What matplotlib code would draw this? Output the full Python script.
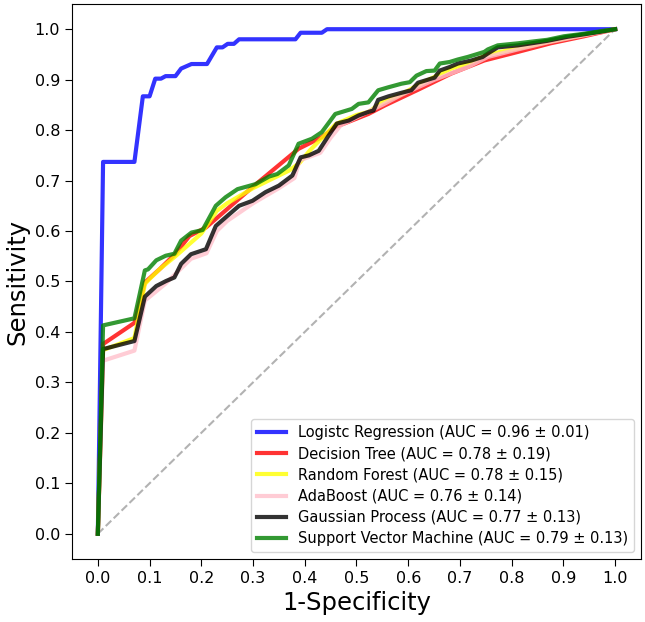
import numpy as np
import matplotlib
matplotlib.use('Agg')
import matplotlib.pyplot as plt

# mean ROC curves
fpr_lr = [0.0, 0.0101, 0.0707, 0.087, 0.10, 0.111, 0.122, 0.131, 0.15, 0.161, 0.181, 0.211,
          0.23, 0.241, 0.251, 0.263, 0.273, 0.382, 0.392, 0.433, 0.443, 1.0]
tpr_lr = [0.0, 0.737, 0.737, 0.867, 0.867, 0.902, 0.902, 0.907, 0.907, 0.922, 0.931, 0.931,
          0.964, 0.964, 0.971, 0.971, 0.980, 0.980, 0.993, 0.993, 1.0, 1.0]

fpr_dt = [0.0, 0.0101, 0.0707, 0.0909, 0.12, 0.15, 0.177, 0.209, 0.30, 0.388, 0.433, 0.459,
          0.523, 0.555, 0.619, 0.683, 0.747, 0.812, 0.875, 0.94, 1.0]
tpr_dt = [0.0, 0.376, 0.418, 0.498, 0.525, 0.555, 0.590, 0.607, 0.688, 0.763, 0.786, 0.806,
          0.832, 0.849, 0.880, 0.912, 0.938, 0.955, 0.972, 0.986, 1.0]

fpr_rf = [0.0, 0.0101, 0.0707, 0.0909, 0.10, 0.12, 0.15, 0.20, 0.23, 0.25, 0.30, 0.37,
          0.39, 0.41, 0.46, 0.50, 0.523, 0.55, 0.587, 0.62, 0.683, 0.72, 0.754, 0.812,
          0.87, 0.94, 1.0]
tpr_rf = [0.0, 0.364, 0.388, 0.495, 0.505, 0.525, 0.550, 0.595, 0.640, 0.655, 0.685, 0.720,
          0.735, 0.760, 0.812, 0.830, 0.836, 0.855, 0.871, 0.890, 0.922, 0.934, 0.950, 0.962,
          0.975, 0.989, 1.0]

fpr_ab = [0.0, 0.0101, 0.0707, 0.0909, 0.13, 0.16, 0.18, 0.21, 0.23, 0.25, 0.30, 0.35,
          0.38, 0.39, 0.43, 0.45, 0.47, 0.50, 0.55, 0.587, 0.651, 0.715, 0.754, 0.812,
          0.87, 0.94, 1.0]
tpr_ab = [0.0, 0.343, 0.363, 0.462, 0.495, 0.525, 0.545, 0.556, 0.600, 0.620, 0.655, 0.685,
          0.705, 0.740, 0.755, 0.785, 0.810, 0.825, 0.850, 0.870, 0.900, 0.925, 0.945, 0.960,
          0.974, 0.988, 1.0]

fpr_gp = [0.0, 0.0101, 0.0707, 0.0909, 0.113, 0.132, 0.148, 0.161, 0.18, 0.209, 0.228, 0.247,
          0.273, 0.299, 0.324, 0.35, 0.376, 0.392, 0.408, 0.427, 0.446, 0.462, 0.485, 0.504,
          0.523, 0.533, 0.542, 0.562, 0.587, 0.606, 0.619, 0.635, 0.651, 0.661, 0.68, 0.696,
          0.722, 0.744, 0.754, 0.773, 0.812, 0.844, 0.869, 0.908, 0.94, 0.972, 1.0]
tpr_gp = [0.0, 0.366, 0.382, 0.470, 0.491, 0.501, 0.508, 0.535, 0.554, 0.564, 0.610, 0.627,
          0.650, 0.660, 0.677, 0.690, 0.710, 0.746, 0.750, 0.759, 0.789, 0.813, 0.819, 0.829,
          0.836, 0.839, 0.860, 0.867, 0.874, 0.879, 0.894, 0.899, 0.904, 0.918, 0.925, 0.932,
          0.938, 0.945, 0.952, 0.964, 0.968, 0.973, 0.977, 0.985, 0.990, 0.995, 1.0]

fpr_svm = [0.0, 0.0101, 0.0707, 0.0909, 0.097, 0.113, 0.131, 0.148, 0.161, 0.181, 0.2025, 0.228,
           0.247, 0.27, 0.305, 0.331, 0.347, 0.369, 0.388, 0.414, 0.433, 0.459, 0.491, 0.504,
           0.523, 0.542, 0.562, 0.587, 0.603, 0.616, 0.635, 0.651, 0.661, 0.68, 0.696, 0.715,
           0.747, 0.754, 0.773, 0.812, 0.844, 0.869, 0.901, 0.94, 0.972, 1.0]
tpr_svm = [0.0, 0.413, 0.427, 0.522, 0.524, 0.542, 0.551, 0.555, 0.581, 0.597, 0.602, 0.650,
           0.667, 0.683, 0.693, 0.708, 0.713, 0.730, 0.773, 0.783, 0.796, 0.832, 0.842, 0.852,
           0.855, 0.879, 0.885, 0.892, 0.895, 0.908, 0.917, 0.918, 0.932, 0.935, 0.940, 0.945,
           0.955, 0.960, 0.968, 0.972, 0.976, 0.979, 0.986, 0.991, 0.996, 1.0]

names = ['Logistc Regression', 'Decision Tree', 'Random Forest', 'AdaBoost',
         'Gaussian Process', 'Support Vector Machine']
aucs = [0.96, 0.78, 0.78, 0.76, 0.77, 0.79]
stds = [0.01, 0.19, 0.15, 0.14, 0.13, 0.13]
colors = ['b', 'r', 'yellow', 'pink', 'k', 'g']

curves = [(fpr_lr, tpr_lr), (fpr_dt, tpr_dt), (fpr_rf, tpr_rf),
          (fpr_ab, tpr_ab), (fpr_gp, tpr_gp), (fpr_svm, tpr_svm)]

fig = plt.figure(figsize=(6.45, 6.22), dpi=100)
ax = fig.add_axes([0.1116, 0.1013, 0.8822, 0.8923])

ax.plot([0, 1], [0, 1], linestyle='--', lw=1.5, color='gray', alpha=0.6)
for (f, t), name, a, s, c in zip(curves, names, aucs, stds, colors):
    ax.plot(f, t, color=c, lw=3, alpha=0.8,
            label='%s (AUC = %0.2f ± %0.2f)' % (name, a, s))

ax.set_xlim(-0.05, 1.05)
ax.set_ylim(-0.05, 1.05)
ax.set_xticks(np.arange(0, 1.01, 0.1))
ax.set_yticks(np.arange(0, 1.01, 0.1))
ax.tick_params(labelsize=11.5, length=5)
ax.set_xlabel('1-Specificity', fontsize=17.5)
ax.set_ylabel('Sensitivity', fontsize=17.5)
ax.legend(loc='lower right', fontsize=10.5, labelspacing=0.42)

fig.savefig('out.png', dpi=100)
